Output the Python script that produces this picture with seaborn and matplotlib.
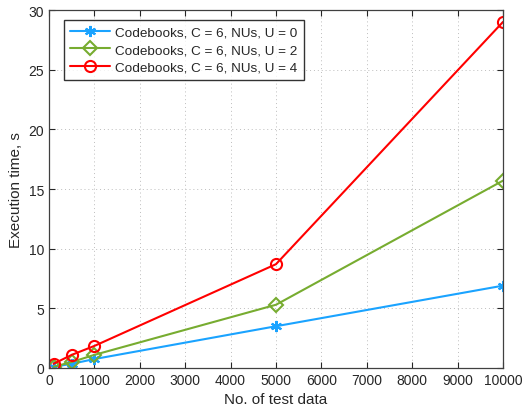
import matplotlib
matplotlib.use("Agg")
import matplotlib.pyplot as plt
import seaborn as sns
import pandas as pd

# Execution time measurements
test_sizes = [100, 500, 1000, 5000, 10000]
time_u0 = [0.1, 0.35, 0.75, 3.5, 6.9]
time_u2 = [0.1, 0.5, 1.1, 5.3, 15.7]
time_u4 = [0.35, 1.1, 1.85, 8.7, 29.0]
labels = ["Codebooks, C = 6, NUs, U = 0",
          "Codebooks, C = 6, NUs, U = 2",
          "Codebooks, C = 6, NUs, U = 4"]
colors = ["#1aa3ff", "#77ac30", "#ff0000"]
markers = [(6, 2, 0), "D", "o"]
msizes = [8, 7, 8]

sns.set_theme(style="white")
plt.rcParams["font.family"] = ["Liberation Sans", "DejaVu Sans"]

df = pd.concat([
    pd.DataFrame({"n": test_sizes, "t": vals, "series": lab})
    for vals, lab in zip([time_u0, time_u2, time_u4], labels)
])

fig = plt.figure(figsize=(5.23, 4.14), dpi=100)
ax = fig.add_axes([0.0937, 0.1087, 0.868, 0.8647])

for lab, col, mk, ms in zip(labels, colors, markers, msizes):
    sub = df[df["series"] == lab]
    sns.lineplot(data=sub, x="n", y="t", ax=ax, color=col, marker=mk,
                 markersize=ms, markerfacecolor="none",
                 markeredgecolor=col, markeredgewidth=1.5,
                 linewidth=1.5, label=lab)

ax.set_xlim(0, 10000)
ax.set_ylim(0, 30)
ax.set_xticks(range(0, 10001, 1000))
ax.set_yticks(range(0, 31, 5))
ax.set_xlabel("No. of test data", fontsize=11, color="#262626")
ax.set_ylabel("Execution time, s", fontsize=11, color="#262626")
ax.tick_params(axis="both", direction="in", length=4, width=0.8,
               labelsize=10, colors="#262626", top=True, right=True,
               bottom=True, left=True)
ax.grid(True, linestyle=(0, (1, 3)), color="#bdbdbd", linewidth=0.7)
for s in ax.spines.values():
    s.set_color("#404040")
    s.set_linewidth(0.9)

leg = ax.legend(loc="upper left", fontsize=9.7, frameon=True, fancybox=False,
                edgecolor="black", handlelength=3.0, borderpad=0.45,
                labelspacing=0.38, handletextpad=0.35, borderaxespad=0,
                bbox_to_anchor=(0.033, 0.972))
leg.get_frame().set_linewidth(1.0)

fig.savefig("out.png", dpi=100)
